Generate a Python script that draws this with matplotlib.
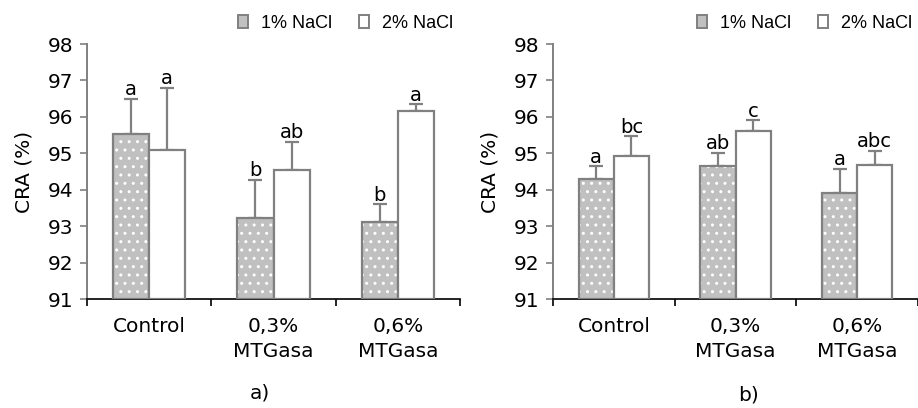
import matplotlib
matplotlib.use("Agg")
import matplotlib.pyplot as plt
from matplotlib.patches import Patch
import numpy as np

# Tratamientos y series
categorias = ["Control", "0,3%\nMTGasa", "0,6%\nMTGasa"]
series = ["1% NaCl", "2% NaCl"]

# Panel a)
cra_a_1 = [95.53, 93.21, 93.12]
cra_a_2 = [95.08, 94.54, 96.16]
err_a_1 = [0.97, 1.07, 0.48]
err_a_2 = [1.72, 0.78, 0.19]
letras_a_1 = ["a", "b", "b"]
letras_a_2 = ["a", "ab", "a"]

# Panel b)
cra_b_1 = [94.29, 94.64, 93.91]
cra_b_2 = [94.93, 95.62, 94.69]
err_b_1 = [0.36, 0.38, 0.67]
err_b_2 = [0.54, 0.29, 0.38]
letras_b_1 = ["a", "ab", "a"]
letras_b_2 = ["bc", "c", "abc"]

GRIS = "#808080"
RELLENO = "#c0c0c0"
ANCHO = 0.29
FS = 14.5

plt.rcParams["hatch.linewidth"] = 1.0


def dibujar_panel(ax, v1, v2, e1, e2, l1, l2, xmax):
    x = np.arange(len(categorias))
    x1 = x - ANCHO / 2
    x2 = x + ANCHO / 2
    base = 91
    # relleno punteado de la serie 1
    ax.bar(x1, np.array(v1) - base, ANCHO, bottom=base, color=RELLENO,
           edgecolor="white", linewidth=0, hatch="..", zorder=2)
    ax.bar(x1, np.array(v1) - base, ANCHO, bottom=base, facecolor="none",
           edgecolor=GRIS, linewidth=1.6, zorder=3)
    ax.bar(x2, np.array(v2) - base, ANCHO, bottom=base, color="white",
           edgecolor=GRIS, linewidth=1.6, zorder=3)
    for xs, v, e in ((x1, v1, e1), (x2, v2, e2)):
        ax.errorbar(xs, v, yerr=[np.zeros(len(e)), e], fmt="none",
                    ecolor=GRIS, elinewidth=1.6, capsize=4.8, capthick=1.6,
                    zorder=1)
    for xs, v, e, ls in ((x1, v1, e1, l1), (x2, v2, e2, l2)):
        for xi, vi, ei, li in zip(xs, v, e, ls):
            ax.annotate(li, (xi, vi + ei), xytext=(0, 2.5),
                        textcoords="offset points", ha="center",
                        va="baseline", fontsize=14)

    ax.set_ylim(91, 98)
    ax.set_yticks(range(91, 99))
    ax.set_xlim(-0.5, xmax)
    ax.set_xticks(x)
    ax.set_xticklabels(categorias, fontsize=FS, linespacing=1.4)
    ax.set_xticks([-0.5, 0.5, 1.5, 2.5], minor=True)
    ax.tick_params(axis="x", which="major", length=0, pad=13)
    ax.tick_params(axis="x", which="minor", length=5, width=1.2,
                   color="black")
    ax.tick_params(axis="y", length=5, width=1.2, color=GRIS, pad=5,
                   labelsize=FS)
    ax.set_ylabel("CRA (%)", fontsize=FS, labelpad=10)
    for lado in ("top", "right"):
        ax.spines[lado].set_visible(False)
    ax.spines["left"].set_color(GRIS)
    ax.spines["left"].set_linewidth(1.4)
    ax.spines["bottom"].set_color("black")
    ax.spines["bottom"].set_linewidth(1.2)


fig = plt.figure(figsize=(9.18, 4.08), dpi=100)
ax_a = fig.add_axes([87 / 918, 109 / 408, 373 / 918, 255 / 408])
ax_b = fig.add_axes([553 / 918, 109 / 408, 365 / 918, 255 / 408])

dibujar_panel(ax_a, cra_a_1, cra_a_2, err_a_1, err_a_2,
              letras_a_1, letras_a_2, 2.5)
dibujar_panel(ax_b, cra_b_1, cra_b_2, err_b_1, err_b_2,
              letras_b_1, letras_b_2, (918 - 553) / 126 - 0.5)

# leyendas arriba a la derecha de cada panel
for x0 in (222 / 918, 681 / 918):
    h = [Patch(facecolor=RELLENO, edgecolor=GRIS, linewidth=1.4),
         Patch(facecolor="white", edgecolor=GRIS, linewidth=1.4)]
    fig.legend(h, series, loc="center left", bbox_to_anchor=(x0, 1 - 23 / 408),
               ncol=2, frameon=False, handlelength=0.55, handleheight=0.75,
               handletextpad=0.7, columnspacing=1.5,
               prop={"family": "Liberation Sans", "size": 13})

fig.text(260 / 918, 1 - 393 / 408, "a)", ha="center", va="center",
         fontsize=FS)
fig.text(748 / 918, 1 - 395 / 408, "b)", ha="center", va="center",
         fontsize=FS)

fig.savefig("out.png", dpi=100)
